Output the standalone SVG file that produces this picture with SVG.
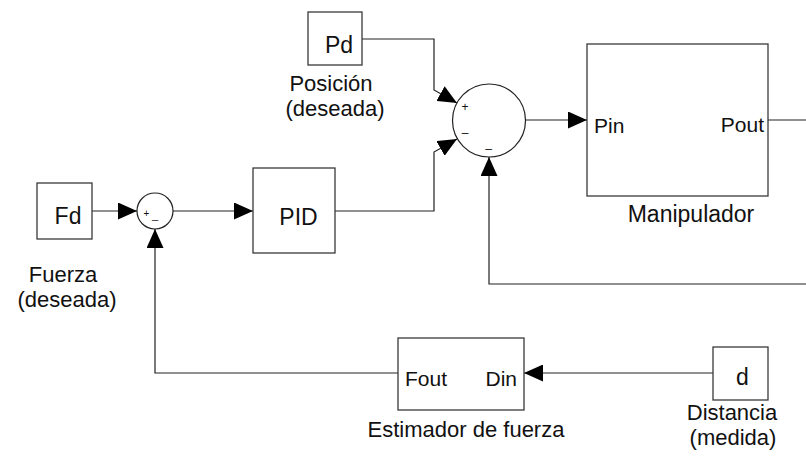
<svg xmlns="http://www.w3.org/2000/svg" width="806" height="457" viewBox="0 0 806 457">
<defs>
<style>
.box{fill:#fff;stroke:#3a3a3a;stroke-width:1.3}
.sum{fill:#fff;stroke:#222;stroke-width:1.2}
.wire{fill:none;stroke:#222;stroke-width:1.2}
text{font-family:"Liberation Sans",Arial,sans-serif;fill:#111}
.lbl{font-size:23px}
.cap{font-size:22px}
.port{font-size:21px}
.mid{text-anchor:middle}
.sgn{font-size:12px;text-anchor:middle}
</style>
<marker id="arr" markerUnits="userSpaceOnUse" markerWidth="19" markerHeight="17" refX="19" refY="8.5" orient="auto">
<path d="M0,0 L19,8.5 L0,17 Z" fill="#000"/>
</marker>
</defs>
<rect width="806" height="457" fill="#fff"/>

<g id="connectors">
<path class="wire" d="M92,211 H137" marker-end="url(#arr)"/>
<path class="wire" d="M173,211 H253" marker-end="url(#arr)"/>
<path class="wire" d="M362,39 H434 V90 L457,103" marker-end="url(#arr)"/>
<path class="wire" d="M335,211 H434 V152 L457,139" marker-end="url(#arr)"/>
<path class="wire" d="M526,120 H587" marker-end="url(#arr)"/>
<path class="wire" d="M768,120 H806"/>
<path class="wire" d="M806,284 H489 V157" marker-end="url(#arr)"/>
<path class="wire" d="M713,373 H524" marker-end="url(#arr)"/>
<path class="wire" d="M398,373 H155 V229" marker-end="url(#arr)"/>
</g>

<g id="fd">
<rect class="box" x="37" y="183" width="55" height="56"/>
<text class="lbl mid" x="68" y="224">Fd</text>
<text class="cap mid" x="63" y="282">Fuerza</text>
<text class="cap mid" x="67" y="307">(deseada)</text>
</g>

<g id="sum1">
<circle class="sum" cx="155" cy="211" r="18"/>
<text x="146.5" y="217" font-size="10" text-anchor="middle">+</text>
<text x="155" y="219" font-size="11" text-anchor="middle">_</text>
</g>

<g id="pid">
<rect class="box" x="253" y="168" width="82" height="85"/>
<text class="lbl mid" x="298.5" y="225">PID</text>
</g>

<g id="pd">
<rect class="box" x="308" y="12" width="54" height="53"/>
<text class="lbl mid" x="339" y="53">Pd</text>
<text class="cap mid" x="331" y="91">Posición</text>
<text class="cap mid" x="335" y="116">(deseada)</text>
</g>

<g id="sum2">
<circle class="sum" cx="489" cy="120.5" r="36.5"/>
<text class="sgn" x="465" y="111">+</text>
<text class="sgn" x="465" y="137">–</text>
<text class="sgn" x="488.5" y="153">–</text>
</g>

<g id="manipulador">
<rect class="box" x="587" y="44" width="181" height="152"/>
<text class="port" x="594" y="133">Pin</text>
<text class="port" x="764" y="132" text-anchor="end">Pout</text>
<text class="lbl mid" x="691" y="222">Manipulador</text>
</g>

<g id="estimador">
<rect class="box" x="398" y="338" width="126" height="72"/>
<text class="port" x="405" y="386">Fout</text>
<text class="port" x="517" y="386" text-anchor="end">Din</text>
<text class="mid" x="466" y="437" font-size="22px">Estimador de fuerza</text>
</g>

<g id="d">
<rect class="box" x="713" y="347" width="55" height="53"/>
<text class="lbl mid" x="742.5" y="385">d</text>
<text class="cap mid" x="732" y="420">Distancia</text>
<text class="cap mid" x="733" y="445">(medida)</text>
</g>
</svg>
